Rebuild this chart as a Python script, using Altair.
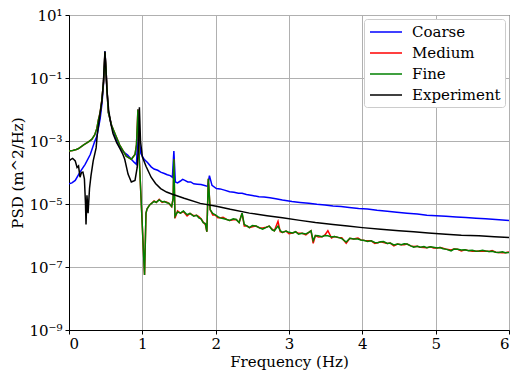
import altair as alt
import pandas as pd

series_names = ["Coarse", "Medium", "Fine", "Experiment"]
series_colors = ["#0000ff", "#ff0000", "#008000", "#000000"]

x_ticks = [0, 1, 2, 3, 4, 5, 6]
y_ticks = [1e-9, 1e-7, 1e-5, 1e-3, 1e-1, 1e1]

# log10(PSD) values
coarse_f = [0.00, 0.04, 0.085, 0.15, 0.22, 0.29, 0.35, 0.38, 0.425, 0.45, 0.47, 0.485, 0.49,
            0.505, 0.52, 0.537, 0.58, 0.626, 0.69, 0.76, 0.80, 0.85, 0.89, 0.92, 0.935, 0.94,
            0.955, 0.98, 1.025, 1.07, 1.12, 1.16, 1.21, 1.25, 1.30, 1.34, 1.38, 1.41, 1.43,
            1.45, 1.48, 1.52, 1.55, 1.58, 1.62, 1.66, 1.70, 1.75, 1.80, 1.85, 1.89, 1.915,
            1.95, 2.01, 2.06, 2.12, 2.19, 2.25, 2.31, 2.36, 2.42, 2.50, 2.59, 2.66, 2.74,
            2.82, 2.91, 3.04, 3.15, 3.27, 3.38, 3.49, 3.60, 3.71, 3.82, 3.95, 4.07, 4.20,
            4.34, 4.47, 4.61, 4.75, 4.88, 5.01, 5.14, 5.28, 5.41, 5.55, 5.68, 5.82, 6.00]
coarse_e = [-4.36, -4.33, -4.25, -3.99, -3.74, -3.43, -3.02, -2.85, -2.29, -1.80, -1.20, -0.55, -0.15,
            -0.74, -1.47, -2.09, -2.50, -2.85, -3.20, -3.38, -3.45, -3.58, -3.68, -3.74, -3.00, -2.00,
            -2.90, -3.40, -3.58, -3.68, -3.82, -3.89, -3.93, -3.99, -4.03, -4.07, -4.10, -4.15, -3.32,
            -4.30, -4.33, -4.27, -4.22, -4.25, -4.30, -4.30, -4.36, -4.37, -4.38, -4.41, -4.44, -4.10,
            -4.41, -4.51, -4.52, -4.56, -4.61, -4.63, -4.66, -4.66, -4.70, -4.73, -4.77, -4.78, -4.80,
            -4.83, -4.87, -4.92, -4.95, -4.98, -5.01, -5.03, -5.06, -5.08, -5.11, -5.14, -5.16, -5.20,
            -5.23, -5.26, -5.29, -5.32, -5.36, -5.37, -5.39, -5.41, -5.43, -5.45, -5.47, -5.49, -5.52]

fine_f = [0.00, 0.05, 0.10, 0.13, 0.20, 0.27, 0.31, 0.35, 0.38, 0.40, 0.425, 0.447, 0.47, 0.483,
          0.49, 0.505, 0.52, 0.537, 0.58, 0.626, 0.69, 0.78, 0.85, 0.90, 0.92, 0.94, 0.955, 0.99,
          1.015, 1.03, 1.05, 1.065, 1.10, 1.16, 1.19, 1.23, 1.27, 1.30, 1.335, 1.365, 1.40, 1.42,
          1.43, 1.445, 1.48, 1.52, 1.56, 1.61, 1.65, 1.70, 1.74, 1.77, 1.80, 1.83, 1.86, 1.88,
          1.90, 1.925, 1.96, 1.99, 2.03, 2.06, 2.10, 2.15, 2.19, 2.24, 2.28, 2.32, 2.36, 2.39,
          2.43, 2.46, 2.50, 2.55, 2.60, 2.64, 2.69, 2.73, 2.77, 2.80, 2.85, 2.88, 2.91, 2.96,
          3.00, 3.05, 3.09, 3.13, 3.18, 3.23, 3.27, 3.30, 3.33, 3.36, 3.40, 3.45, 3.49, 3.53,
          3.58, 3.62, 3.67, 3.72, 3.78, 3.83, 3.88, 3.94, 3.98, 4.03, 4.07, 4.12, 4.17, 4.21,
          4.25, 4.29, 4.34, 4.38, 4.43, 4.48, 4.53, 4.57, 4.61, 4.66, 4.70, 4.75, 4.79, 4.84,
          4.88, 4.93, 4.97, 5.02, 5.06, 5.10, 5.15, 5.21, 5.25, 5.30, 5.35, 5.40, 5.45, 5.50,
          5.55, 5.59, 5.64, 5.68, 5.73, 5.77, 5.82, 5.86, 5.91, 5.95, 6.00]
fine_e = [-3.32, -3.30, -3.27, -3.24, -3.12, -3.02, -2.95, -2.81, -2.60, -2.34, -2.09, -1.72, -1.16, -0.59,
          -0.18, -0.74, -1.47, -2.09, -2.50, -2.76, -3.12, -3.48, -3.58, -3.43, -3.12, -2.00, -3.40, -5.20,
          -6.50, -7.25, -5.29, -5.15, -5.03, -4.92, -4.95, -4.87, -4.93, -4.92, -4.96, -4.98, -5.08, -4.82,
          -3.58, -5.39, -5.25, -5.29, -5.22, -5.34, -5.30, -5.39, -5.36, -5.44, -5.47, -5.59, -5.62, -5.88,
          -4.20, -5.18, -5.30, -5.34, -5.40, -5.44, -5.46, -5.49, -5.52, -5.47, -5.49, -5.59, -5.29, -5.65,
          -5.70, -5.75, -5.68, -5.70, -5.76, -5.80, -5.74, -5.70, -5.82, -5.85, -5.70, -5.84, -5.90, -5.86,
          -5.90, -5.92, -5.88, -5.96, -5.93, -5.95, -5.90, -5.85, -6.16, -6.00, -6.01, -6.04, -6.00, -6.01,
          -6.05, -6.03, -6.06, -6.10, -6.21, -6.09, -6.11, -6.11, -6.14, -6.16, -6.19, -6.17, -6.22, -6.23,
          -6.20, -6.19, -6.25, -6.24, -6.30, -6.27, -6.29, -6.26, -6.27, -6.33, -6.37, -6.34, -6.37, -6.35,
          -6.39, -6.36, -6.37, -6.40, -6.38, -6.42, -6.44, -6.49, -6.43, -6.44, -6.46, -6.45, -6.48, -6.47,
          -6.50, -6.49, -6.47, -6.49, -6.51, -6.50, -6.53, -6.54, -6.52, -6.55, -6.54]

medium_f = fine_f
medium_e = [-3.32, -3.30, -3.27, -3.24, -3.12, -3.02, -2.95, -2.81, -2.60, -2.34, -2.09, -1.72, -1.16, -0.59,
            -0.18, -0.74, -1.47, -2.09, -2.50, -2.76, -3.12, -3.48, -3.58, -3.43, -3.12, -2.00, -3.40, -5.20,
            -6.50, -7.25, -5.29, -5.15, -5.03, -4.90, -4.95, -4.85, -4.95, -4.92, -4.94, -4.99, -5.08, -4.82,
            -3.58, -5.45, -5.22, -5.29, -5.24, -5.38, -5.30, -5.37, -5.36, -5.40, -5.47, -5.57, -5.66, -5.88,
            -4.20, -5.18, -5.35, -5.34, -5.44, -5.44, -5.42, -5.49, -5.52, -5.50, -5.49, -5.59, -5.29, -5.70,
            -5.70, -5.75, -5.72, -5.70, -5.76, -5.76, -5.74, -5.70, -5.80, -5.85, -5.55, -5.88, -5.90, -5.86,
            -5.94, -5.92, -5.88, -5.93, -5.93, -5.98, -5.90, -5.85, -6.25, -6.00, -6.05, -6.04, -5.98, -5.85,
            -6.08, -6.03, -6.06, -6.07, -6.25, -6.09, -6.11, -6.08, -6.14, -6.16, -6.17, -6.17, -6.25, -6.23,
            -6.20, -6.22, -6.25, -6.24, -6.33, -6.27, -6.29, -6.29, -6.27, -6.33, -6.35, -6.34, -6.37, -6.38,
            -6.39, -6.36, -6.40, -6.40, -6.38, -6.40, -6.44, -6.46, -6.43, -6.44, -6.49, -6.45, -6.48, -6.50,
            -6.50, -6.49, -6.50, -6.49, -6.51, -6.48, -6.53, -6.54, -6.55, -6.55, -6.52]

exp_f = [0.00, 0.027, 0.05, 0.085, 0.11, 0.13, 0.15, 0.17, 0.19, 0.21, 0.225, 0.232, 0.245, 0.26,
         0.28, 0.30, 0.33, 0.37, 0.385, 0.42, 0.45, 0.47, 0.485, 0.49, 0.50, 0.515, 0.54, 0.57,
         0.60, 0.65, 0.69, 0.73, 0.76, 0.805, 0.85, 0.90, 0.93, 0.95, 0.96, 0.975, 1.00, 1.05,
         1.12, 1.18, 1.25, 1.33, 1.41, 1.57, 1.79, 2.01, 2.20, 2.46, 2.70, 2.91, 3.15, 3.36,
         3.60, 3.80, 4.00, 4.25, 4.50, 4.70, 4.90, 5.14, 5.35, 5.59, 5.80, 6.00]
exp_e = [-3.64, -3.58, -3.55, -3.63, -3.84, -3.79, -4.15, -4.00, -3.99, -4.20, -5.00, -5.65, -4.72, -5.29,
         -4.50, -4.10, -3.63, -3.22, -2.81, -2.20, -1.70, -1.10, -0.40, -0.15, -0.60, -1.30, -2.00, -2.45,
         -2.76, -3.05, -3.22, -3.40, -3.58, -4.05, -4.30, -4.25, -3.84, -3.10, -1.93, -3.00, -3.50, -3.80,
         -4.15, -4.35, -4.51, -4.62, -4.69, -4.82, -4.98, -5.07, -5.17, -5.29, -5.37, -5.44, -5.52, -5.59,
         -5.65, -5.70, -5.75, -5.80, -5.85, -5.88, -5.92, -5.96, -5.99, -6.01, -6.04, -6.06]

rows = []
for name, fs, es in [("Coarse", coarse_f, coarse_e), ("Medium", medium_f, medium_e),
                     ("Fine", fine_f, fine_e), ("Experiment", exp_f, exp_e)]:
    for i, (f, e) in enumerate(zip(fs, es)):
        rows.append({"series": name, "f": f, "e": e, "k": i})
df = pd.DataFrame(rows)

FONT = "DejaVu Serif"

label_expr = ("datum.value >= 1 ? '10\u00b9' : datum.value >= 0.01 ? '10\u207b\u00b9' : "
              "datum.value >= 1e-4 ? '10\u207b\u00b3' : datum.value >= 1e-6 ? '10\u207b\u2075' : "
              "datum.value >= 1e-8 ? '10\u207b\u2077' : '10\u207b\u2079'")

color = alt.Color(
    "series:N",
    scale=alt.Scale(domain=series_names, range=series_colors),
    legend=alt.Legend(
        title=None, orient="none", legendX=295, legendY=4,
        labelFont=FONT, labelFontSize=15, labelColor="black",
        symbolType="M-2,0H2", symbolSize=256, symbolStrokeWidth=1.5,
        symbolOffset=9, labelOffset=17, padding=4, rowPadding=4,
        strokeColor="#cccccc", fillColor="white", cornerRadius=3,
    ),
)

x = alt.X("f:Q", scale=alt.Scale(domain=[0, 6], nice=False),
          axis=alt.Axis(values=x_ticks, format="d", title="Frequency (Hz)",
                        titlePadding=3, labelPadding=2))
y = alt.Y("psd:Q", scale=alt.Scale(type="log", domain=[1e-9, 10], nice=False),
          axis=alt.Axis(values=y_ticks, labelExpr=label_expr, title="PSD (m^2/Hz)",
                        titlePadding=3, labelPadding=3))

base = alt.Chart(df).transform_calculate(psd="pow(10, datum.e)")


def line(name):
    return base.transform_filter(alt.datum.series == name).mark_line(
        strokeWidth=1.5, clip=True
    ).encode(x=x, y=y, color=color, order="k:Q")


chart = alt.layer(*[line(n) for n in series_names]).properties(
    width=440, height=315,
    autosize=alt.AutoSizeParams(type="none"),
    padding={"left": 61, "top": 7, "right": 5, "bottom": 40},
).configure_view(stroke="black", strokeWidth=1).configure_axis(
    labelFont=FONT, labelFontSize=15, labelColor="black",
    titleFont=FONT, titleFontSize=15, titleFontWeight="normal", titleColor="black",
    domainColor="black", tickColor="black", tickSize=4,
    gridColor="#b0b0b0", gridWidth=1,
)

chart.save("out.html", embed_options={"renderer": "svg", "actions": False})
